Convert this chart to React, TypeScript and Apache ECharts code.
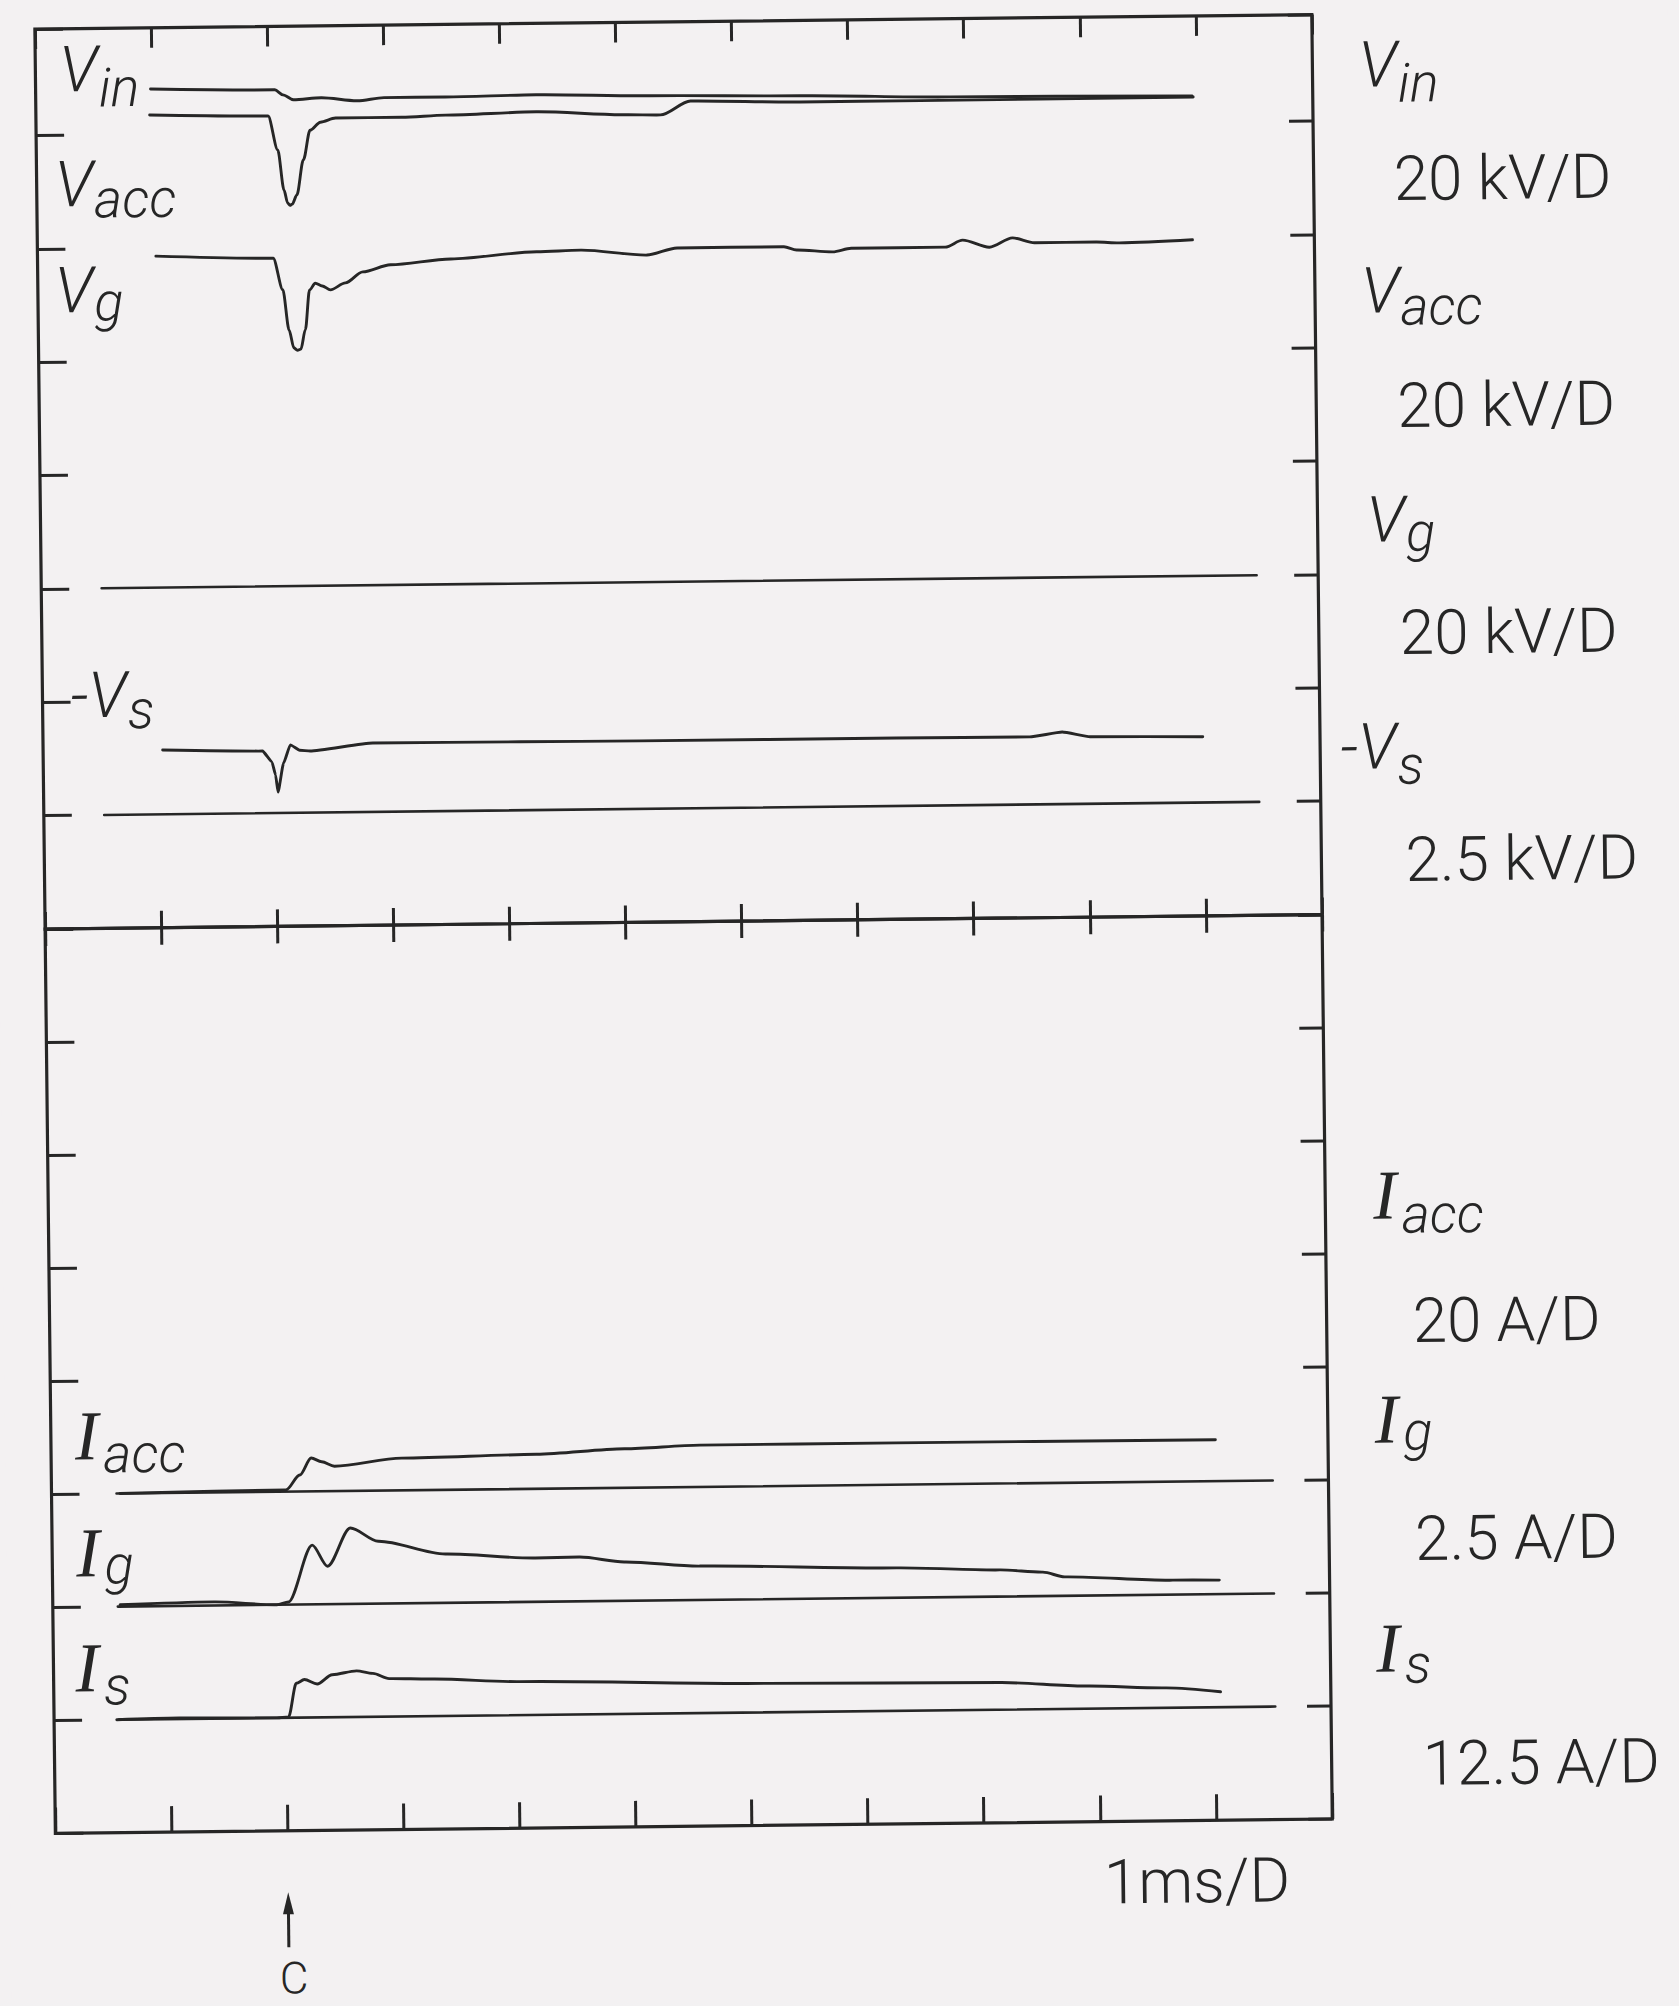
import React, { useEffect, useRef } from 'react';
import * as echarts from 'echarts';

// ---------------------------------------------------------------------------
// Data. Time in ms (1 ms/D), t = 0 at trigger "C".
// ---------------------------------------------------------------------------
const X_MIN = -2;
const X_MAX = 9;
const X_STEP = 1;

// Upper panel: voltages (kV)
const VIN_T = [-1.01, 0.06, 0.13, 0.22, 0.46, 0.77, 1.0, 1.53, 2.31, 3.29, 4.58, 5.88, 7.96];
const VIN_KV = [88.0, 87.6, 86.7, 85.8, 86.1, 85.5, 86.0, 86.0, 86.2, 85.8, 85.5, 85.0, 84.7];

const VACC_T = [-1.02, 0.0, 0.08, 0.13, 0.16, 0.18, 0.2, 0.24, 0.3, 0.36, 0.45, 0.58, 1.15, 1.53, 2.31, 3.07, 3.38, 3.64, 4.58, 5.62, 7.97];
const VACC_KV = [83.4, 83.0, 77.0, 69.9, 67.6, 67.2, 67.4, 69.0, 75.2, 80.4, 81.8, 82.5, 82.5, 82.8, 83.2, 82.5, 82.4, 84.8, 84.4, 84.4, 84.5];

const VG_T = [-0.98, 0.03, 0.11, 0.16, 0.2, 0.23, 0.26, 0.3, 0.34, 0.39, 0.45, 0.52, 0.65, 0.8, 1.04, 1.56, 2.3, 2.68, 3.25, 3.51, 4.43, 4.54, 4.85, 5.01, 5.82, 5.97, 6.2, 6.4, 6.59, 7.12, 7.32, 7.95];
const VG_KV = [58.5, 57.9, 52.3, 45.2, 42.0, 41.6, 41.8, 45.2, 52.2, 53.4, 52.9, 52.2, 53.4, 55.3, 56.5, 57.4, 58.5, 58.7, 57.7, 58.9, 58.9, 58.3, 57.9, 58.5, 58.5, 59.7, 58.4, 60.0, 59.1, 59.1, 58.9, 59.3];

const VS_T = [-0.97, -0.11, -0.03, 0.0, 0.02, 0.07, 0.13, 0.21, 0.3, 0.84, 2.11, 3.14, 5.35, 6.5, 6.78, 7.02, 7.99];
const VS_KV = [1.42, 1.37, 1.13, 0.84, 0.46, 1.1, 1.5, 1.38, 1.36, 1.52, 1.51, 1.5, 1.5, 1.49, 1.59, 1.48, 1.45];

// Lower panel: currents (A)
const IACC_T = [-1.41, 0.02, 0.14, 0.24, 0.33, 0.44, 1.02, 2.18, 2.94, 3.59, 5.28, 8.03];
const IACC_A = [0.0, 0.3, 2.9, 5.9, 5.2, 4.4, 5.7, 6.1, 6.9, 7.4, 7.4, 7.3];

const IG_T = [-1.42, -0.61, -0.07, 0.03, 0.24, 0.37, 0.57, 0.81, 1.39, 2.16, 2.54, 2.93, 3.58, 5.27, 6.16, 6.53, 6.72, 7.65, 8.05];
const IG_A = [0.04, 0.08, 0.0, 0.06, 1.31, 0.84, 1.68, 1.38, 1.08, 0.97, 0.98, 0.86, 0.75, 0.66, 0.59, 0.53, 0.42, 0.32, 0.31];

const IS_T = [-1.46, -0.92, -0.08, 0.02, 0.09, 0.16, 0.27, 0.4, 0.61, 0.75, 0.89, 1.26, 2.01, 4.15, 6.15, 6.9, 7.57, 8.05];
const IS_A = [0.0, 0.1, 0.0, 0.1, 3.8, 4.2, 3.7, 4.7, 5.1, 4.8, 4.2, 4.1, 3.7, 3.2, 3.0, 2.5, 2.2, 1.7];

// Zero (reference) lines: time span
const ZERO_UPPER_T = [-1.48, 8.47];
const ZERO_LOWER_T = [-1.44, 8.52];

// Channel sensitivities (per division) and zero positions (division index in panel)
const SCALE_TEXT = ['20 kV/D', '20 kV/D', '20 kV/D', '2.5 kV/D', '20 A/D', '2.5 A/D', '12.5 A/D'];
const PER_DIV = [20, 20, 20, 2.5, 20, 2.5, 12.5];
const ZERO_DIV = [3, 3, 3, 1, 3, 2, 1];

// Channel names: [main letter, subscript]
const NAMES: [string, string][] = [
  ['V', 'in'],
  ['V', 'acc'],
  ['V', 'g'],
  ['-V', 's'],
  ['I', 'acc'],
  ['I', 'g'],
  ['I', 's'],
];

const TIME_TEXT = '1ms/D';
const TRIGGER_TEXT = 'C';

// ---------------------------------------------------------------------------
// Layout / style
// ---------------------------------------------------------------------------
const W = 1679;
const H = 2006;
const BG = '#f3f1f2';
const INK = '#262626';
const SANS = 'Roboto, "DejaVu Sans", sans-serif';
const SERIF = '"Liberation Serif", "DejaVu Serif", serif';

const G_LEFT = 46;
const G_WIDTH = 1277;
const UP_TOP = 20;
const UP_H = 900;
const LOW_TOP = 920;
const LOW_H = 904.5;
const UP_MAX = 7.94;
const LOW_MAX = 8;

const MAIN_SIZE_V = 64;
const MAIN_SIZE_I = 70;
const SUB_SIZE = 54;
const TEXT_WEIGHT = 300;

// label positions: [mainX, mainBaseline, subscript baseline drop]
const LEFT_POS = [
  [70, 83, 15],
  [64, 198, 11],
  [63, 304, 8],
  [74, 709, 11],
  [70, 1451, 13],
  [70, 1568, 7],
  [68, 1683, 13],
];
const RIGHT_POS = [
  [1369, 93, 15],
  [1369, 319, 12],
  [1372, 548, 9],
  [1343, 775, 15],
  [1371, 1225, 14],
  [1370, 1449, 7],
  [1369, 1678, 11],
];
const SCALE_POS = [
  [1403, 206],
  [1404, 433],
  [1404, 660],
  [1407, 887],
  [1409, 1348],
  [1409, 1566],
  [1414, 1791],
];

function trace(ts: number[], vals: number[], ch: number, xi: number, yi: number, name: string, width = 2.9, smooth = 0.3) {
  return {
    type: 'line',
    name,
    xAxisIndex: xi,
    yAxisIndex: yi,
    data: ts.map((t, i) => [t, ZERO_DIV[ch] + vals[i] / PER_DIV[ch]]),
    showSymbol: false,
    symbol: 'none',
    smooth,
    smoothMonotone: 'x',
    silent: true,
    z: 3,
    lineStyle: { color: INK, width, cap: 'round', join: 'round' },
  };
}

function xAx(gridIndex: number, position: string, len: number) {
  return {
    type: 'value',
    gridIndex,
    position,
    min: X_MIN,
    max: X_MAX,
    interval: X_STEP,
    axisLine: { show: false, onZero: false },
    axisLabel: { show: false },
    splitLine: { show: false },
    axisTick: { show: true, inside: true, length: len, lineStyle: { color: INK, width: 3 } },
  };
}

function yAx(gridIndex: number, position: string, max: number, len: number) {
  return {
    type: 'value',
    gridIndex,
    position,
    min: 0,
    max,
    interval: 1,
    axisLine: { show: false, onZero: false },
    axisLabel: { show: false },
    splitLine: { show: false },
    axisTick: { show: true, inside: true, length: len, lineStyle: { color: INK, width: 3 } },
  };
}

function txt(text: string, x: number, base: number, size: number, family: string, italic: boolean, anchor = 'left') {
  return {
    type: 'text',
    x,
    y: base - 0.34 * size,
    silent: true,
    z: 10,
    style: {
      text,
      fill: INK,
      fontSize: size,
      fontFamily: family,
      fontStyle: italic ? 'italic' : 'normal',
      fontWeight: TEXT_WEIGHT,
      align: anchor,
      verticalAlign: 'middle',
    },
  };
}

let measureCtx: CanvasRenderingContext2D | null = null;
function textWidth(text: string, size: number, family: string, italic: boolean) {
  if (!measureCtx) measureCtx = document.createElement('canvas').getContext('2d');
  if (!measureCtx) return size * 0.6 * text.length;
  measureCtx.font = `${italic ? 'italic ' : ''}${TEXT_WEIGHT} ${size}px ${family}`;
  return measureCtx.measureText(text).width;
}

// channel name: main letter followed by a lowered subscript placed after it
function nameLabel(i: number, pos: number[]) {
  const [main, sub] = NAMES[i];
  const isI = main === 'I';
  const mSize = isI ? MAIN_SIZE_I : MAIN_SIZE_V;
  const mFamily = isI ? SERIF : SANS;
  const mW = textWidth(main, mSize, mFamily, true);
  const subX = pos[0] + mW + (isI ? 5 : 1);
  return [
    txt(main, pos[0], pos[1], mSize, mFamily, true),
    txt(sub, subX, pos[1] + pos[2], SUB_SIZE, SANS, true),
  ];
}

function buildOption() {
  const series = [
    // upper panel (grid 0): xAxis 1 (bottom), yAxis 0
    trace(ZERO_UPPER_T, [0, 0], 0, 1, 0, 'V zero', 2.6, 0),
    trace(ZERO_UPPER_T, [0, 0], 3, 1, 0, '-Vs zero', 2.6, 0),
    trace(VIN_T, VIN_KV, 0, 1, 0, 'Vin'),
    trace(VACC_T, VACC_KV, 1, 1, 0, 'Vacc'),
    trace(VG_T, VG_KV, 2, 1, 0, 'Vg'),
    trace(VS_T, VS_KV, 3, 1, 0, '-Vs', 2.9, 0.15),
    // lower panel (grid 1): xAxis 3 (bottom), yAxis 2
    trace(ZERO_LOWER_T, [0, 0], 4, 3, 2, 'Iacc zero', 2.6, 0),
    trace(ZERO_LOWER_T, [0, 0], 5, 3, 2, 'Ig zero', 2.6, 0),
    trace(ZERO_LOWER_T, [0, 0], 6, 3, 2, 'Is zero', 2.6, 0),
    trace(IACC_T, IACC_A, 4, 3, 2, 'Iacc'),
    trace(IG_T, IG_A, 5, 3, 2, 'Ig'),
    trace(IS_T, IS_A, 6, 3, 2, 'Is'),
  ];
  return {
    animation: false,
    backgroundColor: BG,
    grid: [
      { left: G_LEFT, top: UP_TOP, width: G_WIDTH, height: UP_H, show: true, borderColor: INK, borderWidth: 3.2, backgroundColor: 'transparent' },
      { left: G_LEFT, top: LOW_TOP, width: G_WIDTH, height: LOW_H, show: true, borderColor: INK, borderWidth: 3.2, backgroundColor: 'transparent' },
    ],
    xAxis: [xAx(0, 'top', 20), xAx(0, 'bottom', 17), xAx(1, 'top', 17), xAx(1, 'bottom', 26)],
    yAxis: [yAx(0, 'left', UP_MAX, 28), yAx(0, 'right', UP_MAX, 24), yAx(1, 'left', LOW_MAX, 28), yAx(1, 'right', LOW_MAX, 24)],
    series,
  };
}

function buildGraphics(cx: number) {
  const els: any[] = [];
  for (let i = 0; i < NAMES.length; i++) {
    els.push(...nameLabel(i, LEFT_POS[i]));
    els.push(...nameLabel(i, RIGHT_POS[i]));
    els.push(txt(SCALE_TEXT[i], SCALE_POS[i][0], SCALE_POS[i][1], 62, SANS, false));
  }
  els.push(txt(TIME_TEXT, 1094, 1906, 62, SANS, false));
  // trigger arrow + "C"
  els.push({
    type: 'line',
    silent: true,
    shape: { x1: cx, y1: 1941, x2: cx, y2: 1902 },
    style: { stroke: INK, lineWidth: 3 },
  });
  els.push({
    type: 'polygon',
    silent: true,
    shape: { points: [[cx, 1886], [cx - 5.5, 1908], [cx + 5.5, 1908]] },
    style: { fill: INK },
  });
  els.push(txt(TRIGGER_TEXT, cx + 5, 1987, 44, SANS, false, 'center'));
  return els;
}

export default function App() {
  const ref = useRef<HTMLDivElement>(null);
  useEffect(() => {
    const el = ref.current;
    if (!el) return;
    const chart = echarts.init(el, undefined, { renderer: 'svg', width: W, height: H });
    chart.setOption(buildOption() as any);
    const px = chart.convertToPixel({ xAxisIndex: 3 }, 0) as unknown as number;
    chart.setOption({ graphic: buildGraphics(typeof px === 'number' ? px : 278) } as any);
    return () => chart.dispose();
  }, []);
  return (
    <div style={{ position: 'absolute', left: 0, top: 0, width: W, height: H, overflow: 'hidden', background: BG }}>
      <div
        ref={ref}
        style={{ width: W, height: H, transform: 'rotate(-0.65deg)', transformOrigin: '50% 50%' }}
      />
    </div>
  );
}
